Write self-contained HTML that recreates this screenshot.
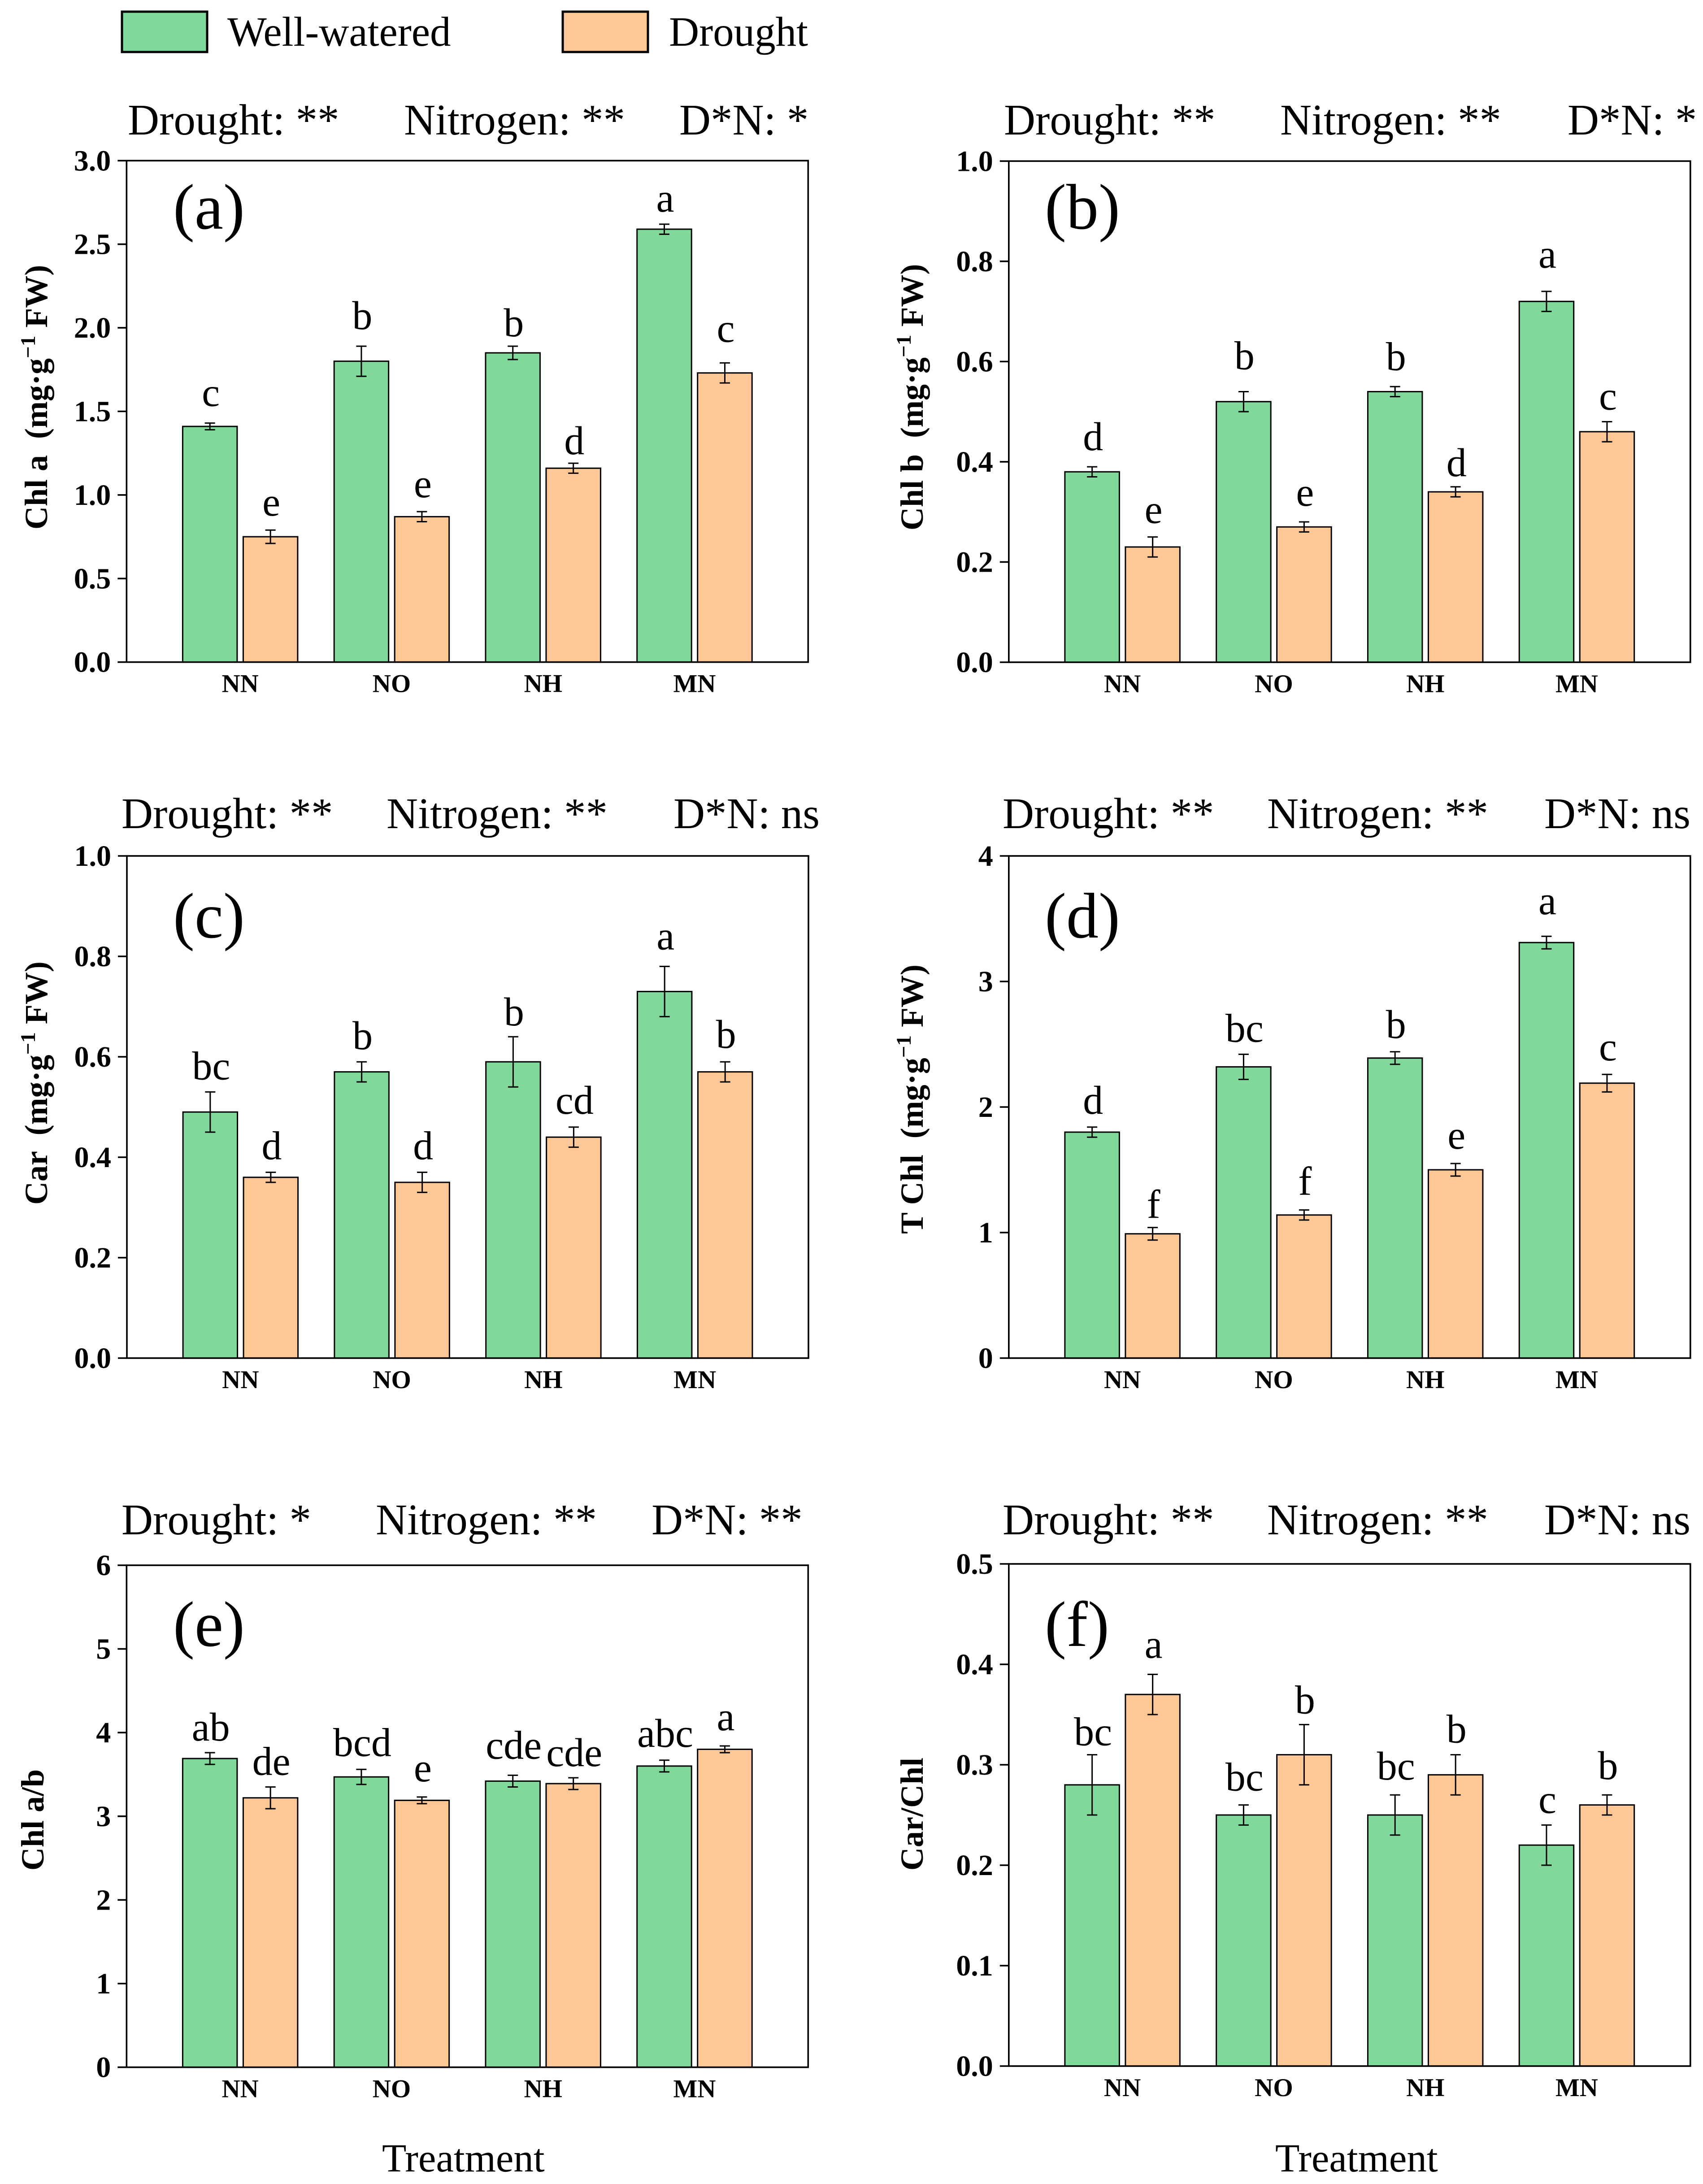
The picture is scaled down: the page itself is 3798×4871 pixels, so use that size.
<!DOCTYPE html>
<html lang="en">
<head>
<meta charset="utf-8">
<title>Chlorophyll and carotenoid response to drought and nitrogen</title>
<style>
  html, body { margin: 0; padding: 0; background: #fff; }
  svg { display: block; }
  text { font-family: "Liberation Serif", "Times New Roman", serif; fill: #000; }
  .note { font-size: 97px; }
  .legend-text { font-size: 93px; }
  .panel-tag { font-size: 144px; }
  .y-title { font-size: 72px; font-weight: bold; }
  .x-title { font-size: 89px; }
  .sup { font-size: 47px; }
</style>
</head>
<body>
<svg id="figure" xmlns="http://www.w3.org/2000/svg" width="3798" height="4871" viewBox="0 0 3798 4871">
  <rect x="0" y="0" width="3798" height="4871" fill="#ffffff"/>

  <g>
    <rect x="272" y="26" width="190" height="90" fill="#80D99B" stroke="#000" stroke-width="5"/>
    <text class="legend-text" x="507" y="102">Well-watered</text>
    <rect x="1255" y="26" width="190" height="90" fill="#FEC896" stroke="#000" stroke-width="5"/>
    <text class="legend-text" x="1492" y="102">Drought</text>
  </g>

  <g>
    <text class="note" x="285" y="300">Drought: **</text>
    <text class="note" x="901" y="300">Nitrogen: **</text>
    <text class="note" x="1515" y="300">D*N: *</text>

    <text class="note" x="2239" y="300">Drought: **</text>
    <text class="note" x="2855" y="300">Nitrogen: **</text>
    <text class="note" x="3496" y="300">D*N: *</text>

    <text class="note" x="271" y="1847">Drought: **</text>
    <text class="note" x="862" y="1847">Nitrogen: **</text>
    <text class="note" x="1502" y="1847">D*N: ns</text>

    <text class="note" x="2236" y="1847">Drought: **</text>
    <text class="note" x="2826" y="1847">Nitrogen: **</text>
    <text class="note" x="3444" y="1847">D*N: ns</text>

    <text class="note" x="271" y="3422">Drought: *</text>
    <text class="note" x="838" y="3422">Nitrogen: **</text>
    <text class="note" x="1453" y="3422">D*N: **</text>

    <text class="note" x="2236" y="3422">Drought: **</text>
    <text class="note" x="2826" y="3422">Nitrogen: **</text>
    <text class="note" x="3444" y="3422">D*N: ns</text>
  </g>

  <g>
    <text class="y-title" transform="translate(105 1181) rotate(-90)" xml:space="preserve">Chl a  (mg·g<tspan class="sup" dy="-27">−1</tspan><tspan dy="27"> FW)</tspan></text>
    <text class="y-title" transform="translate(2058 1183) rotate(-90)" xml:space="preserve">Chl b  (mg·g<tspan class="sup" dy="-27">−1</tspan><tspan dy="27"> FW)</tspan></text>
    <text class="y-title" transform="translate(105 2687) rotate(-90)" xml:space="preserve">Car  (mg·g<tspan class="sup" dy="-27">−1</tspan><tspan dy="27"> FW)</tspan></text>
    <text class="y-title" transform="translate(2058 2752) rotate(-90)" xml:space="preserve">T Chl  (mg·g<tspan class="sup" dy="-27">−1</tspan><tspan dy="27"> FW)</tspan></text>
    <text class="y-title" transform="translate(97 4172) rotate(-90)">Chl a/b</text>
    <text class="y-title" transform="translate(2058 4172) rotate(-90)">Car/Chl</text>
  </g>

  <text class="x-title" x="852" y="4843">Treatment</text>
  <text class="x-title" x="2844" y="4843">Treatment</text>

  <g id="panels"></g>
</svg>

<script>
// Shared categories
const categories = ['NN', 'NO', 'NH', 'MN'];

// Panel (a) Chl a
const chlAWell = [1.41, 1.80, 1.85, 2.59];
const chlAWellErr = [0.02, 0.09, 0.04, 0.03];
const chlADrought = [0.75, 0.87, 1.16, 1.73];
const chlADroughtErr = [0.04, 0.03, 0.03, 0.06];
const chlAWellLetters = ['c', 'b', 'b', 'a'];
const chlADroughtLetters = ['e', 'e', 'd', 'c'];
const chlATicks = ['0.0', '0.5', '1.0', '1.5', '2.0', '2.5', '3.0'];

// Panel (b) Chl b
const chlBWell = [0.38, 0.52, 0.54, 0.72];
const chlBWellErr = [0.01, 0.02, 0.01, 0.02];
const chlBDrought = [0.23, 0.27, 0.34, 0.46];
const chlBDroughtErr = [0.02, 0.01, 0.01, 0.02];
const chlBWellLetters = ['d', 'b', 'b', 'a'];
const chlBDroughtLetters = ['e', 'e', 'd', 'c'];
const chlBTicks = ['0.0', '0.2', '0.4', '0.6', '0.8', '1.0'];

// Panel (c) Car
const carWell = [0.49, 0.57, 0.59, 0.73];
const carWellErr = [0.04, 0.02, 0.05, 0.05];
const carDrought = [0.36, 0.35, 0.44, 0.57];
const carDroughtErr = [0.01, 0.02, 0.02, 0.02];
const carWellLetters = ['bc', 'b', 'b', 'a'];
const carDroughtLetters = ['d', 'd', 'cd', 'b'];
const carTicks = ['0.0', '0.2', '0.4', '0.6', '0.8', '1.0'];

// Panel (d) T Chl
const totalWell = [1.80, 2.32, 2.39, 3.31];
const totalWellErr = [0.04, 0.10, 0.05, 0.05];
const totalDrought = [0.99, 1.14, 1.50, 2.19];
const totalDroughtErr = [0.05, 0.04, 0.05, 0.07];
const totalWellLetters = ['d', 'bc', 'b', 'a'];
const totalDroughtLetters = ['f', 'f', 'e', 'c'];
const totalTicks = ['0', '1', '2', '3', '4'];

// Panel (e) Chl a/b
const ratioWell = [3.69, 3.47, 3.42, 3.60];
const ratioWellErr = [0.07, 0.09, 0.07, 0.07];
const ratioDrought = [3.22, 3.19, 3.39, 3.80];
const ratioDroughtErr = [0.13, 0.04, 0.07, 0.04];
const ratioWellLetters = ['ab', 'bcd', 'cde', 'abc'];
const ratioDroughtLetters = ['de', 'e', 'cde', 'a'];
const ratioTicks = ['0', '1', '2', '3', '4', '5', '6'];

// Panel (f) Car/Chl
const carChlWell = [0.28, 0.25, 0.25, 0.22];
const carChlWellErr = [0.03, 0.01, 0.02, 0.02];
const carChlDrought = [0.37, 0.31, 0.29, 0.26];
const carChlDroughtErr = [0.02, 0.03, 0.02, 0.01];
const carChlWellLetters = ['bc', 'bc', 'bc', 'c'];
const carChlDroughtLetters = ['a', 'b', 'b', 'b'];
const carChlTicks = ['0.0', '0.1', '0.2', '0.3', '0.4', '0.5'];

// Panel definitions: layout plus references to the data arrays above
const panels = [
  { id: 'a', tag: '(a)', left: 282.3, top: 358.3, bottom: 1476.7, tagX: 386, tagY: 510,
    well: chlAWell, wellErr: chlAWellErr, drought: chlADrought, droughtErr: chlADroughtErr,
    wellLetters: chlAWellLetters, droughtLetters: chlADroughtLetters, ticks: chlATicks,
    wellGap: [38, 38, 22, 28], droughtGap: [32, 32, 20, 47] },
  { id: 'b', tag: '(b)', left: 2249.8, top: 359.3, bottom: 1477, tagX: 2330, tagY: 510,
    well: chlBWell, wellErr: chlBWellErr, drought: chlBDrought, droughtErr: chlBDroughtErr,
    wellLetters: chlBWellLetters, droughtLetters: chlBDroughtLetters, ticks: chlBTicks,
    wellGap: [37, 50, 37, 53], droughtGap: [31, 36, 24, 27] },
  { id: 'c', tag: '(c)', left: 283, top: 1909, bottom: 3029, tagX: 386, tagY: 2091,
    well: carWell, wellErr: carWellErr, drought: carDrought, droughtErr: carDroughtErr,
    wellLetters: carWellLetters, droughtLetters: carDroughtLetters, ticks: carTicks,
    wellGap: [28, 28, 25, 38], droughtGap: [29, 29, 30, 31] },
  { id: 'd', tag: '(d)', left: 2249.8, top: 1909, bottom: 3029, tagX: 2330, tagY: 2091,
    well: totalWell, wellErr: totalWellErr, drought: totalDrought, droughtErr: totalDroughtErr,
    wellLetters: totalWellLetters, droughtLetters: totalDroughtLetters, ticks: totalTicks,
    wellGap: [30, 28, 31, 49], droughtGap: [22, 34, 33, 31] },
  { id: 'e', tag: '(e)', left: 282.3, top: 3491, bottom: 4610.6, tagX: 386, tagY: 3671,
    well: ratioWell, wellErr: ratioWellErr, drought: ratioDrought, droughtErr: ratioDroughtErr,
    wellLetters: ratioWellLetters, droughtLetters: ratioDroughtLetters, ticks: ratioTicks,
    wellGap: [27, 30, 37, 30], droughtGap: [27, 35, 26, 35] },
  { id: 'f', tag: '(f)', left: 2249.8, top: 3488, bottom: 4608, tagX: 2330, tagY: 3671,
    well: carChlWell, wellErr: carChlWellErr, drought: carChlDrought, droughtErr: carChlDroughtErr,
    wellLetters: carChlWellLetters, droughtLetters: carChlDroughtLetters, ticks: carChlTicks,
    wellGap: [21, 32, 34, 27], droughtGap: [37, 25, 27, 35] }
];

const SVG_NS = 'http://www.w3.org/2000/svg';
const WELL_COLOR = '#80D99B';
const DROUGHT_COLOR = '#FEC896';
const PANEL_WIDTH = 1520;

function make(tag, attrs, parent) {
  const node = document.createElementNS(SVG_NS, tag);
  for (const key in attrs) node.setAttribute(key, attrs[key]);
  parent.appendChild(node);
  return node;
}

function drawSeries(root, p, seriesName, values, errors, letters, gaps, color, side, xScale, yScale) {
  values.forEach(function (value, i) {
    const cx = xScale(i + 0.75) + side * 67.5;
    const y = yScale(value);
    const barWidth = 121.5;

    const bar = make('rect', {
      x: cx - barWidth / 2, y: y, width: barWidth, height: yScale(0) - y,
      fill: color, stroke: '#000', 'stroke-width': 3
    }, root);
    
    

    const yHigh = yScale(value + errors[i]);
    const yLow = yScale(value - errors[i]);
    const errorBar = make('path', {
      d: 'M' + cx + ' ' + yLow + 'V' + yHigh +
         'M' + (cx - 11.5) + ' ' + yHigh + 'h23' +
         'M' + (cx - 11.5) + ' ' + yLow + 'h23',
      fill: 'none', stroke: '#000', 'stroke-width': 3
    }, root);
    
    

    const letter = make('text', {
      x: cx + 2, y: yHigh - gaps[i], 'text-anchor': 'middle', 'font-size': 90
    }, root);
    letter.textContent = letters[i];
    
    
  });
}

function drawPanel(p, container) {
  const group = make('g', {}, container);
  
  

  const right = p.left + PANEL_WIDTH;
  const yMax = Number(p.ticks[p.ticks.length - 1]);
  const xScale = function (u) { return p.left + (u / 4.5) * PANEL_WIDTH; };
  const yScale = function (v) { return p.bottom - (v / yMax) * (p.bottom - p.top); };

  drawSeries(group, p, 'well-watered', p.well, p.wellErr, p.wellLetters, p.wellGap, WELL_COLOR, -1, xScale, yScale);
  drawSeries(group, p, 'drought', p.drought, p.droughtErr, p.droughtLetters, p.droughtGap, DROUGHT_COLOR, 1, xScale, yScale);

  const frame = make('rect', {
    x: p.left, y: p.top, width: PANEL_WIDTH, height: p.bottom - p.top,
    fill: 'none', stroke: '#000', 'stroke-width': 3.6
  }, group);
  
  

  p.ticks.forEach(function (label) {
    const ty = yScale(Number(label));

    const tick = make('line', {
      x1: p.left - 20, x2: p.left, y1: ty, y2: ty, stroke: '#000', 'stroke-width': 3.6
    }, group);
    
    

    const tickLabel = make('text', {
      x: p.left - 35, y: ty + 22, 'text-anchor': 'end', 'font-size': 66, 'font-weight': 'bold'
    }, group);
    tickLabel.textContent = label;
    
    
  });

  categories.forEach(function (category, i) {
    const categoryLabel = make('text', {
      x: xScale(i + 0.75), y: p.bottom + 67, 'text-anchor': 'middle', 'font-size': 57, 'font-weight': 'bold'
    }, group);
    categoryLabel.textContent = category;
    
    
  });

  const panelTag = make('text', { x: p.tagX, y: p.tagY, class: 'panel-tag' }, group);
  panelTag.textContent = p.tag;
  
  
}

const panelRoot = document.getElementById('panels');
panels.forEach(function (p) { drawPanel(p, panelRoot); });
</script>
</body>
</html>
